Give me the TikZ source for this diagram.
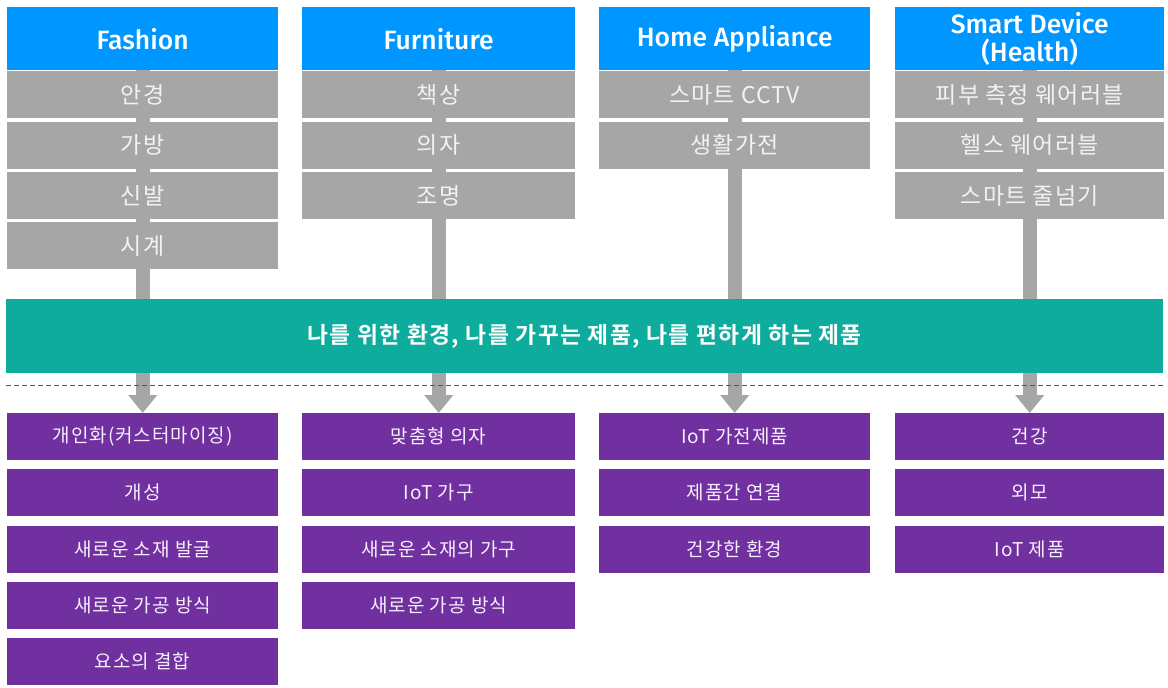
\documentclass[tikz,border=0pt]{standalone}
\usepackage{fontspec}
\setmainfont{Noto Sans CJK KR}
\newfontfamily\hdrfont{Fira Sans Medium}
\newfontfamily\grayfont{Noto Sans CJK KR}[LetterSpace=5]
\newfontfamily\purpfont{Noto Sans CJK KR}[LetterSpace=5]
\newfontfamily\bandfont{Noto Sans CJK KR Bold}[LetterSpace=6]
\usetikzlibrary{arrows.meta,backgrounds}
\definecolor{hdrblue}{RGB}{0,150,255}
\definecolor{boxgray}{RGB}{166,166,166}
\definecolor{graytxt}{RGB}{242,242,242}
\definecolor{bandteal}{RGB}{14,172,156}
\definecolor{purp}{RGB}{112,48,160}
\definecolor{purptxt}{RGB}{248,240,252}
\definecolor{dashc}{RGB}{70,85,115}
\begin{document}
\begin{tikzpicture}[x=1pt,y=-1pt,
  hdr/.style={fill=hdrblue,text=white,font=\hdrfont\fontsize{26.5}{28}\selectfont,inner sep=0pt,anchor=north west,minimum height=63pt,align=center},
  gbox/.style={fill=boxgray,text=graytxt,font=\grayfont\fontsize{23}{24}\selectfont,inner sep=0pt,anchor=north west,minimum height=47pt},
  pbox/.style={fill=purp,text=purptxt,font=\purpfont\fontsize{19}{20}\selectfont,inner sep=0pt,anchor=north west,minimum height=47pt},
  band/.style={fill=bandteal,text=white,font=\bandfont\fontsize{22.8}{24}\selectfont,inner sep=0pt,anchor=north west,minimum height=74pt},
  stem/.style={draw=boxgray,line width=14pt},
  arrowstem/.style={stem,-{Triangle[width=28pt,length=18pt]}},
  sep/.style={draw=dashc,line width=1pt,dash pattern=on 5pt off 3pt}]
\useasboundingbox (0,0) rectangle (1168,688);
% headers
\node[hdr,minimum width=271pt] (hF) at (7,7) {Fashion};
\node[hdr,minimum width=273pt] (hU) at (302,7) {Furniture};
\node[hdr,minimum width=271pt] (hH) at (599,7) {Home Appliance};
\node[hdr,minimum width=269pt] (hS) at (895,7) {Smart Device\\(Health)};
% gray items
\node[gbox,minimum width=271pt] (gF1) at (7,71) {안경};
\node[gbox,minimum width=271pt] (gF2) at (7,121.5) {가방};
\node[gbox,minimum width=271pt] (gF3) at (7,172) {신발};
\node[gbox,minimum width=271pt] (gF4) at (7,222) {시계};
\node[gbox,minimum width=273pt] (gU1) at (302,71) {책상};
\node[gbox,minimum width=273pt] (gU2) at (302,121.5) {의자};
\node[gbox,minimum width=273pt] (gU3) at (302,172) {조명};
\node[gbox,minimum width=271pt] (gH1) at (599,71) {스마트 CCTV};
\node[gbox,minimum width=271pt] (gH2) at (599,121.5) {생활가전};
\node[gbox,minimum width=269pt] (gS1) at (895,71) {피부 측정 웨어러블};
\node[gbox,minimum width=269pt] (gS2) at (895,121.5) {헬스 웨어러블};
\node[gbox,minimum width=269pt] (gS3) at (895,172) {스마트 줄넘기};
% band
\node[band,minimum width=1157pt] (band) at (6,299) {나를 위한 환경, 나를 가꾸는 제품, 나를 편하게 하는 제품};
% purple items
\node[pbox,minimum width=271pt] (pF1) at (7,413) {개인화(커스터마이징)};
\node[pbox,minimum width=271pt] (pF2) at (7,469) {개성};
\node[pbox,minimum width=271pt] (pF3) at (7,525.5) {새로운 소재 발굴};
\node[pbox,minimum width=271pt] (pF4) at (7,582) {새로운 가공 방식};
\node[pbox,minimum width=271pt] (pF5) at (7,638) {요소의 결합};
\node[pbox,minimum width=273pt] (pU1) at (302,413) {맞춤형 의자};
\node[pbox,minimum width=273pt] (pU2) at (302,469) {IoT 가구};
\node[pbox,minimum width=273pt] (pU3) at (302,525.5) {새로운 소재의 가구};
\node[pbox,minimum width=273pt] (pU4) at (302,582) {새로운 가공 방식};
\node[pbox,minimum width=271pt] (pH1) at (599,413) {IoT 가전제품};
\node[pbox,minimum width=271pt] (pH2) at (599,469) {제품간 연결};
\node[pbox,minimum width=271pt] (pH3) at (599,525.5) {건강한 환경};
\node[pbox,minimum width=269pt] (pS1) at (895,413) {건강};
\node[pbox,minimum width=269pt] (pS2) at (895,469) {외모};
\node[pbox,minimum width=269pt] (pS3) at (895,525.5) {IoT 제품};
% stems behind the gray items
\begin{scope}[on background layer]
\draw[stem] (hF.south) -- (hF.south |- band.north);
\draw[stem] (hU.south) -- (hU.south |- band.north);
\draw[stem] (hH.south) -- (hH.south |- band.north);
\draw[stem] (hS.south) -- (hS.south |- band.north);
\end{scope}
% arrows below the band
\draw[arrowstem] (pF1.north |- band.south) -- (pF1.north);
\draw[arrowstem] (pU1.north |- band.south) -- (pU1.north);
\draw[arrowstem] (pH1.north |- band.south) -- (pH1.north);
\draw[arrowstem] (pS1.north |- band.south) -- (pS1.north);
% dashed separator
\coordinate (dL) at (6,385);
\coordinate (dR) at (1163,385);
\draw[sep] (dL) -- (dR);
\end{tikzpicture}
\end{document}
